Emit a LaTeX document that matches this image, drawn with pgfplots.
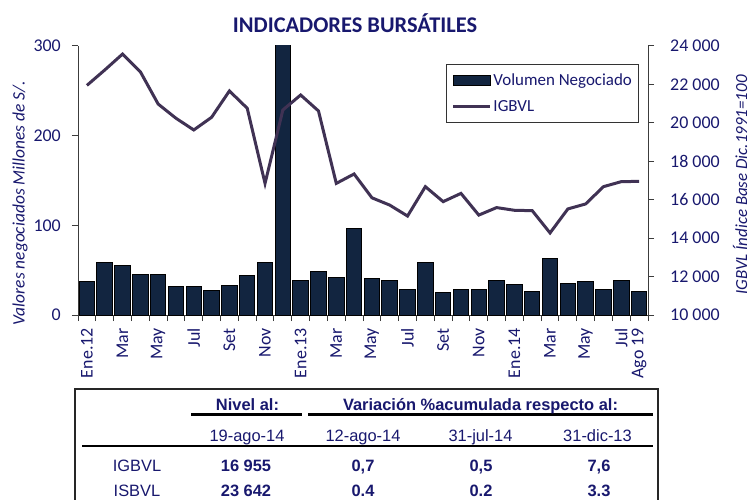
\documentclass[border=0pt]{standalone}
\usepackage{fontspec}
\setmainfont{Carlito}
\newfontfamily\tabfont{Liberation Sans}
\usepackage{pgfplots}
\pgfplotsset{compat=1.18}
\definecolor{navy}{RGB}{24,24,110}
\definecolor{barcol}{RGB}{18,37,64}
\definecolor{linecol}{RGB}{64,50,84}
\definecolor{axcol}{RGB}{60,60,60}

\pgfplotstableread{
x y
0 37
1 58
2 55
3 45
4 45
5 32
6 32
7 27
8 33
9 44
10 59
11 340
12 38
13 49
14 42
15 96
16 41
17 39
18 29
19 59
20 25
21 29
22 29
23 39
24 34
25 26
26 63
27 35
28 37
29 28
30 38
31 26
}\volumen

\pgfplotstableread{
x y
0 21950
1 22750
2 23580
3 22660
4 20980
5 20240
6 19630
7 20290
8 21660
9 20760
10 16850
11 20670
12 21450
13 20620
14 16850
15 17340
16 16100
17 15720
18 15150
19 16680
20 15900
21 16330
22 15200
23 15590
24 15450
25 15430
26 14270
27 15520
28 15780
29 16680
30 16940
31 16955
}\igbvl

\begin{document}
\begin{tikzpicture}[x=1bp,y=1bp]
\useasboundingbox (0,0) rectangle (753,-500);
\clip (0,0) rectangle (753,-500);

\node[font=\fontsize{22.5}{26}\selectfont\bfseries, text=navy] at (355,-22.7) {INDICADORES BURSÁTILES};

\begin{axis}[
  at={(78bp,-315bp)}, anchor=south west,
  width=570bp, height=269bp, scale only axis,
  xmin=-0.5, xmax=31.5, ymin=0, ymax=300,
  axis y line*=left, axis x line*=bottom,
  axis line style={axcol, line width=1bp},
  ybar, bar width=15.5bp,
  xtick={0,2,4,6,8,10,12,14,16,18,20,22,24,26,28,30,31},
  xticklabels={Ene.12,Mar,May,Jul,Set,Nov,Ene.13,Mar,May,Jul,Set,Nov,Ene.14,Mar,May,Jul,Ago 19},
  minor xtick={-0.5,0.5,...,31.5},
  major x tick style={draw=none},
  minor x tick style={axcol, line width=1bp},
  ytick={0,100,200,300},
  yticklabels={0,100,200,300},
  y tick style={axcol, line width=1bp},
  tick align=outside,
  major tick length=6bp, minor tick length=6bp,
  tick label style={font=\fontsize{18}{21}\selectfont, text=navy},
  /pgf/number format/assume math mode=true,
  xticklabel style={rotate=90, anchor=east, inner sep=0pt, xshift=-7bp},
  yticklabel style={inner sep=0pt, xshift=-11bp},
  ylabel={Valores negociados Millones de S/.},
  ylabel style={at={(axis description cs:-0.1018,0.416)}, anchor=center, font=\fontsize{17.5}{21}\selectfont\itshape, text=navy},
  clip=true,
]
\addplot[fill=barcol, draw=black, line width=1bp] table[x=x,y=y] {\volumen};
\end{axis}

\begin{axis}[
  at={(78bp,-315bp)}, anchor=south west,
  width=570bp, height=269bp, scale only axis,
  xmin=-0.5, xmax=31.5, ymin=10000, ymax=24000,
  axis y line*=right, axis x line=none,
  axis line style={axcol, line width=1bp},
  scaled y ticks=false,
  ytick={10000,12000,14000,16000,18000,20000,22000,24000},
  yticklabels={10 000,12 000,14 000,16 000,18 000,20 000,22 000,24 000},
  y tick style={axcol, line width=1bp},
  tick align=outside, major tick length=6bp,
  tick label style={font=\fontsize{18}{21}\selectfont, text=navy},
  yticklabel style={inner sep=0pt, xshift=16bp},
  ylabel={IGBVL Índice Base Dic.1991=100},
  ylabel style={at={(axis description cs:1.1614,0.483)}, anchor=center, font=\fontsize{17}{20}\selectfont\itshape, text=navy},
  legend style={at={(0.6456,0.933)}, anchor=north west, draw=black!80, line width=1bp,
    font=\fontsize{17}{20}\selectfont, text=navy, row sep=10bp, inner xsep=5bp, inner ysep=7bp},
  legend cell align=left,
]
\addlegendimage{legend image code/.code={\draw[fill=barcol, draw=black, line width=1bp] (0bp,-5bp) rectangle (37bp,5bp);}}
\addlegendentry{Volumen Negociado}
\addplot[linecol, line width=3bp, mark=none, legend image code/.code={\draw[linecol, line width=3bp] (0bp,0bp) -- (37bp,0bp);}] table[x=x,y=y] {\igbvl};
\addlegendentry{IGBVL}
\end{axis}

% table below the chart
\draw[black!85, line width=1.3bp] (75,-520) -- (75,-389) -- (658,-389) -- (658,-520);
\draw[black, line width=2.4bp] (191,-414.3) -- (302,-414.3);
\draw[black, line width=2.4bp] (308,-414.3) -- (653,-414.3);
\draw[black, line width=1.8bp] (82,-445.7) -- (653,-445.7);

\tikzset{tb/.style={anchor=base, text=navy, inner sep=0pt, font=\tabfont\fontsize{16.5}{19}\selectfont},
         tbb/.style={tb, font=\tabfont\fontsize{16.5}{19}\selectfont\bfseries}}
\node[tbb] at (247.5,-410) {Nivel al:};
\node[tbb] at (480.5,-410) {Variación \%acumulada respecto al:};
\node[tb] at (247,-441.7) {19-ago-14};
\node[tb] at (363,-441.7) {12-ago-14};
\node[tb] at (480.5,-441.7) {31-jul-14};
\node[tb] at (597.5,-441.7) {31-dic-13};
\node[tb] at (137,-471) {IGBVL};
\node[tbb] at (246,-471) {16 955};
\node[tbb] at (363,-471) {0,7};
\node[tbb] at (481,-471) {0,5};
\node[tbb] at (599,-471) {7,6};
\node[tb] at (137,-496) {ISBVL};
\node[tbb] at (246,-496) {23 642};
\node[tbb] at (363,-496) {0.4};
\node[tbb] at (481,-496) {0.2};
\node[tbb] at (599,-496) {3.3};
\end{tikzpicture}
\end{document}
